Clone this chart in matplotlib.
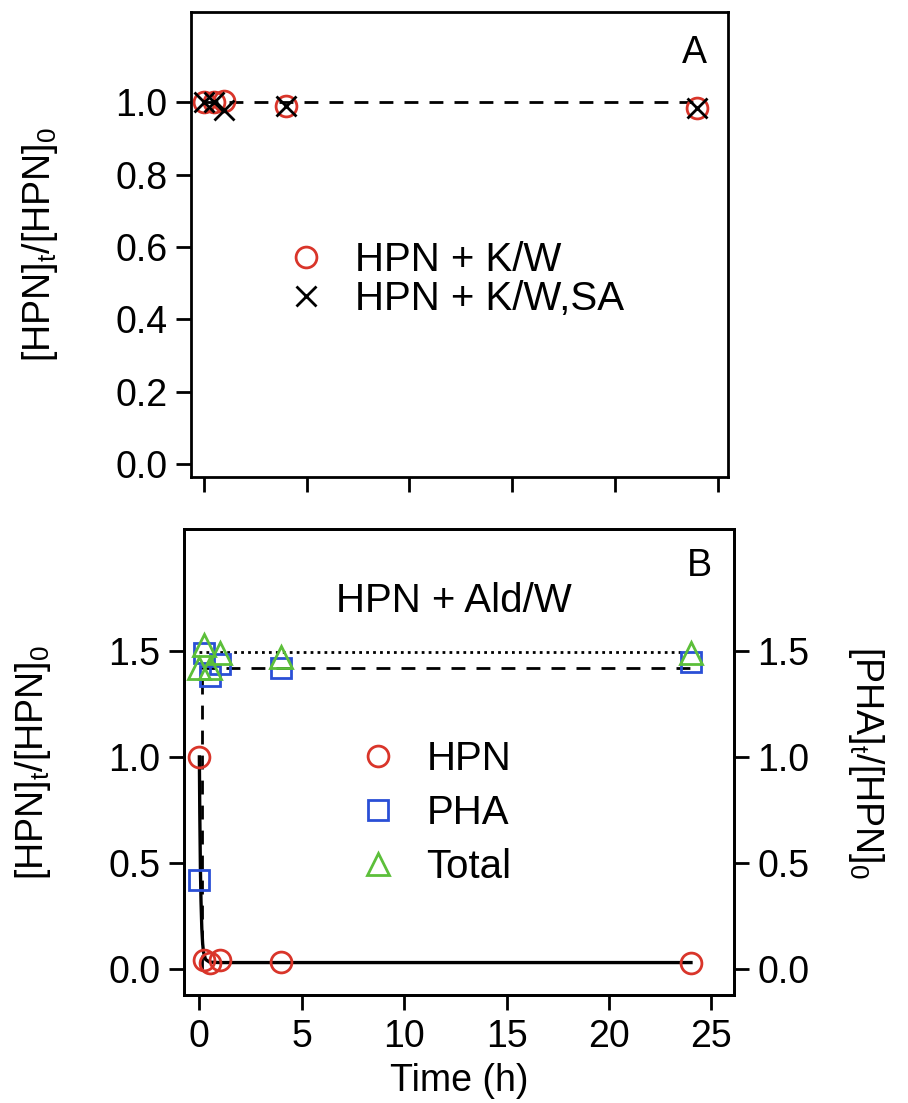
import numpy as np
import matplotlib
matplotlib.use("Agg")
import matplotlib.pyplot as plt

plt.rcParams['font.family'] = ['Liberation Sans', 'DejaVu Sans']
plt.rcParams['mathtext.fontset'] = 'custom'
plt.rcParams['mathtext.rm'] = 'Liberation Sans'
plt.rcParams['mathtext.it'] = 'Liberation Sans:italic'

# Panel A: HPN stability in K/W and K/W,SA
kw_t = [0, 0.5, 1, 4, 24]
kw_y = [1.0, 1.0, 1.005, 0.99, 0.985]
kwsa_t = [0, 0.5, 1, 4, 24]
kwsa_y = [1.0, 1.0, 0.98, 0.99, 0.985]
ref_t = [0, 24]
ref_y = [1.0, 1.0]

# Panel B: HPN + Ald/W
ald_t = [0, 0.25, 0.5, 1, 4, 24]
hpn_y = [1.0, 0.04, 0.03, 0.04, 0.035, 0.03]
pha_y = [0.42, 1.49, 1.38, 1.44, 1.42, 1.45]
total_y = [1.42, 1.53, 1.42, 1.49, 1.47, 1.49]

# fitted curves
hpn_fit_t = [0, 0.02, 0.05, 0.08, 0.12, 0.16, 0.2, 0.3, 0.5, 1, 24]
hpn_fit_y = [1.0, 0.74, 0.48, 0.32, 0.19, 0.12, 0.08, 0.045, 0.032, 0.03, 0.03]
pha_fit_t = [0.15, 0.15, 24]
pha_fit_y = [0.0, 1.42, 1.42]
total_fit_t = [0, 24]
total_fit_y = [1.495, 1.495]

RED = '#d9352a'
BLUE = '#2a4fd6'
GREEN = '#5cbf3a'
FS = 27
LFS = 29
LW = 2.0

W, H = 908, 1103
fig = plt.figure(figsize=(W / 100, H / 100), dpi=100)
axA = fig.add_axes([191 / W, 1 - 477 / H, (728 - 191) / W, (477 - 12) / H])
axB = fig.add_axes([184 / W, 1 - 995 / H, (734 - 184) / W, (995 - 529) / H])

for ax in (axA, axB):
    for s in ax.spines.values():
        s.set_linewidth(LW)
    ax.tick_params(direction='out', length=11, width=LW, labelsize=FS, pad=6)

# ---- Panel A ----
axA.plot(ref_t, ref_y, color='black', lw=LW, ls=(0, (5, 4)), zorder=1)
axA.plot(kw_t, kw_y, ls='none', marker='o', ms=15, mfc='none', mec=RED, mew=2.0,
         label='HPN + K/W')
axA.plot(kwsa_t, kwsa_y, ls='none', marker='x', ms=15, mec='black', mew=2.0,
         label='HPN + K/W,SA')
axA.set_xlim(-0.63, 25.5)
axA.set_ylim(-0.036, 1.25)
axA.set_xticks([0, 5, 10, 15, 20, 25])
axA.set_xticklabels([])
axA.set_yticks([0.0, 0.2, 0.4, 0.6, 0.8, 1.0])
axA.set_yticklabels(['0.0', '0.2', '0.4', '0.6', '0.8', '1.0'])
axA.set_ylabel(r'[HPN]$_\mathrm{t}$/[HPN]$_\mathrm{0}$', fontsize=FS, labelpad=40)
axA.text(0.96, 0.95, 'A', transform=axA.transAxes, fontsize=FS, ha='right', va='top')
axA.legend(loc='upper left', bbox_to_anchor=(0.14, 0.55), frameon=False, fontsize=LFS,
           handlelength=1.0, handletextpad=0.7, labelspacing=0.02, borderpad=0)

# ---- Panel B ----
axB.plot(hpn_fit_t, hpn_fit_y, color='black', lw=2.4, zorder=1)
axB.plot(pha_fit_t, pha_fit_y, color='black', lw=LW, ls=(0, (5, 4)), zorder=1)
axB.plot(total_fit_t, total_fit_y, color='black', lw=LW, ls=(0, (1, 1.5)), zorder=1)
axB.plot(ald_t, hpn_y, ls='none', marker='o', ms=15, mfc='none', mec=RED, mew=2.0,
         label='HPN')
axB.plot(ald_t, pha_y, ls='none', marker='s', ms=14, mfc='none', mec=BLUE, mew=2.0,
         label='PHA')
axB.plot(ald_t, total_y, ls='none', marker='^', ms=16, mfc='none', mec=GREEN, mew=2.0,
         label='Total')
axB.set_xlim(-0.75, 26.1)
axB.set_ylim(-0.123, 2.075)
axB.set_xticks([0, 5, 10, 15, 20, 25])
axB.set_yticks([0.0, 0.5, 1.0, 1.5])
axB.set_yticklabels(['0.0', '0.5', '1.0', '1.5'])
axB.set_xlabel('Time (h)', fontsize=FS, labelpad=6)
axB.set_ylabel(r'[HPN]$_\mathrm{t}$/[HPN]$_\mathrm{0}$', fontsize=FS, labelpad=40)
axB.text(0.96, 0.96, 'B', transform=axB.transAxes, fontsize=FS, ha='right', va='top')
axB.text(0.49, 0.845, 'HPN + Ald/W', transform=axB.transAxes, fontsize=LFS,
         ha='center', va='center')
axB.legend(loc='upper left', bbox_to_anchor=(0.28, 0.59), frameon=False, fontsize=LFS,
           handlelength=1.0, handletextpad=0.7, labelspacing=0.4, borderpad=0)

axB2 = axB.twinx()
axB2.set_ylim(axB.get_ylim())
axB2.set_yticks([0.0, 0.5, 1.0, 1.5])
axB2.set_yticklabels(['0.0', '0.5', '1.0', '1.5'])
for s in axB2.spines.values():
    s.set_linewidth(LW)
axB2.tick_params(direction='out', length=11, width=LW, labelsize=FS, pad=6)
axB2.set_ylabel(r'[PHA]$_\mathrm{t}$/[HPN]$_\mathrm{0}$', fontsize=FS, rotation=270,
                labelpad=55)

fig.savefig('out.png', dpi=100)
